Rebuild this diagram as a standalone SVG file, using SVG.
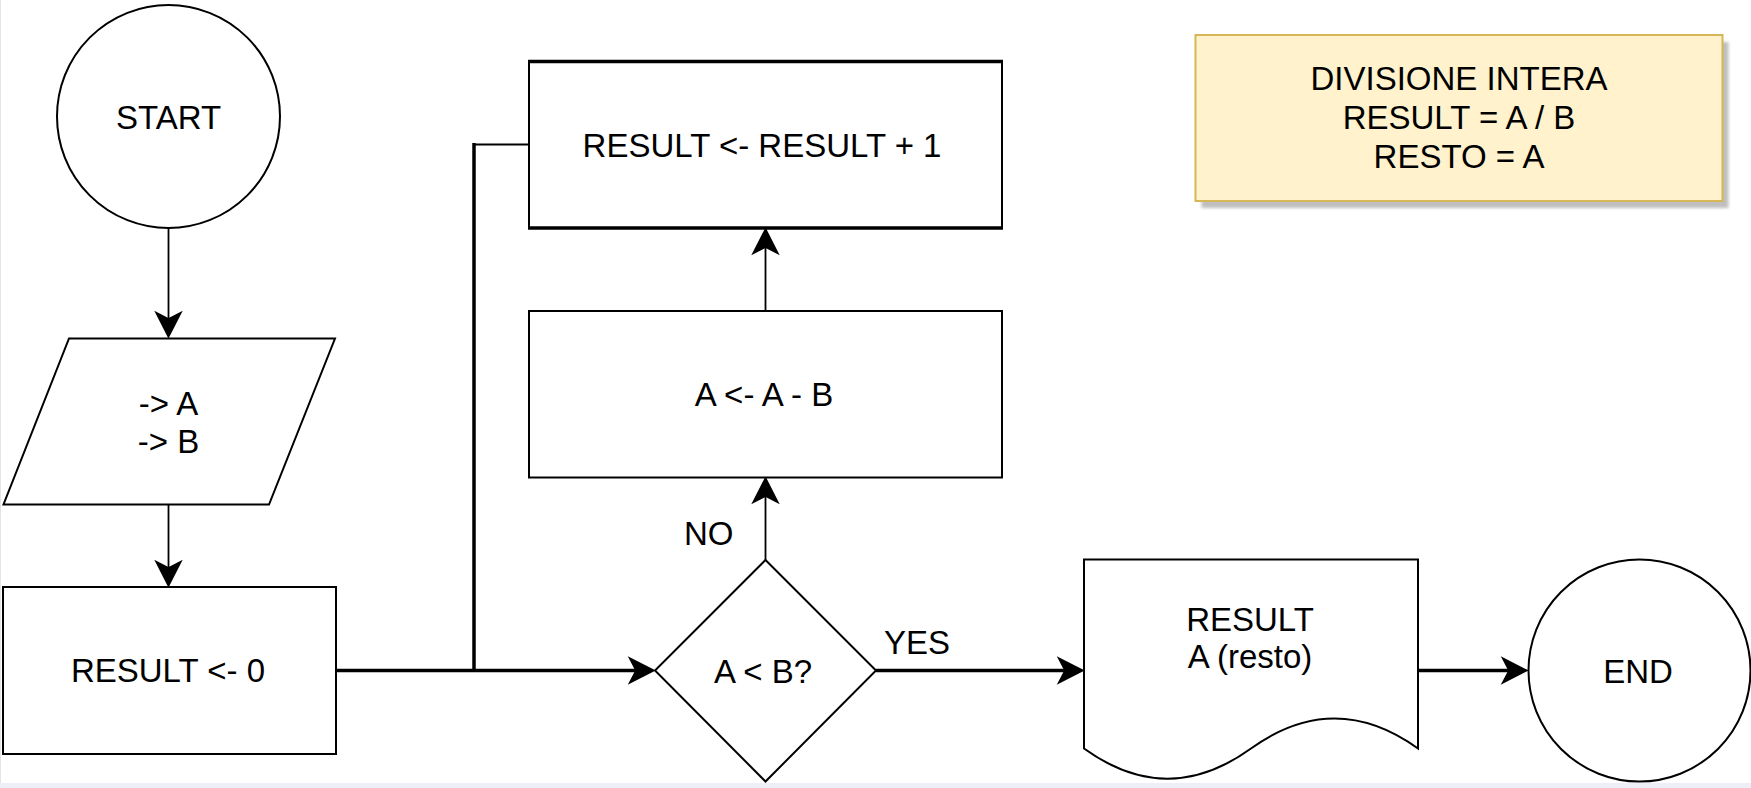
<svg xmlns="http://www.w3.org/2000/svg" width="1751" height="788" viewBox="0 0 1751 788">
  <style>
    .shape { fill: #ffffff; stroke: #000000; stroke-width: 2; }
    .lbl { font-family: "Liberation Sans", Arial, Helvetica, sans-serif; font-size: 33px; fill: #000000; text-anchor: middle; }
    .edge-label { font-family: "Liberation Sans", Arial, Helvetica, sans-serif; font-size: 33px; fill: #000000; text-anchor: start; }
    .thin { fill: none; stroke: #000000; stroke-width: 1.8; }
    .thick { fill: none; stroke: #000000; stroke-width: 3.5; }
  </style>
  <defs>
    <marker id="arrow" markerUnits="userSpaceOnUse" markerWidth="40" markerHeight="40" viewBox="-10 -20 40 40" refX="0" refY="0" orient="auto" overflow="visible">
      <path d="M18,0 L-6.5,-12.5 L0,0 L-6.5,12.5 Z" fill="#000000" stroke="#000000" stroke-width="1.5" stroke-linejoin="miter"/>
    </marker>
    <filter id="soft" x="-5%" y="-10%" width="110%" height="120%">
      <feGaussianBlur stdDeviation="1.5"/>
    </filter>
  </defs>

  <rect x="0" y="0" width="1751" height="788" fill="#ffffff"/>
  <rect x="0" y="783" width="1751" height="5" fill="#eeeef6"/>
  <line x1="0.5" y1="0" x2="0.5" y2="783" stroke="#e4e4e4" stroke-width="1"/>

  <g id="connectors">
    <path class="thin" d="M168.5,228 V319" marker-end="url(#arrow)"/>
    <path class="thin" d="M168.5,505 V568" marker-end="url(#arrow)"/>
    <path class="thick" d="M336,670.5 H636" marker-end="url(#arrow)"/>
    <path class="thin" d="M529,144.5 H474"/>
    <path class="thick" d="M474,143 V670.5"/>
    <path class="thin" d="M765.5,560 V496" marker-end="url(#arrow)"/>
    <path class="thin" d="M765.5,311 V247" marker-end="url(#arrow)"/>
    <path class="thick" d="M876,670.5 H1065" marker-end="url(#arrow)"/>
    <path class="thick" d="M1418,670.5 H1509" marker-end="url(#arrow)"/>
    <text class="edge-label" x="684" y="545">NO</text>
    <text class="edge-label" x="884" y="654">YES</text>
  </g>

  <g id="start">
    <circle class="shape" cx="168.5" cy="116.5" r="111.5"/>
    <text class="lbl" x="168.5" y="128.5">START</text>
  </g>

  <g id="input">
    <polygon class="shape" points="69,338.5 335,338.5 269,504.5 3.5,504.5"/>
    <text class="lbl" x="168.5" y="414.5">-&gt; A</text>
    <text class="lbl" x="168.5" y="453">-&gt; B</text>
  </g>

  <g id="init">
    <rect class="shape" x="3" y="587" width="333" height="167"/>
    <text class="lbl" x="168" y="682">RESULT &lt;- 0</text>
  </g>

  <g id="increment">
    <rect class="shape" x="529" y="61.5" width="473" height="166.5"/>
    <line x1="528" y1="61.5" x2="1003" y2="61.5" stroke="#000000" stroke-width="3.5"/>
    <line x1="528" y1="228" x2="1003" y2="228" stroke="#000000" stroke-width="3.5"/>
    <text class="lbl" x="762" y="156.5">RESULT &lt;- RESULT + 1</text>
  </g>

  <g id="subtract">
    <rect class="shape" x="529" y="311" width="473" height="166.5"/>
    <text class="lbl" x="764" y="406">A &lt;- A - B</text>
  </g>

  <g id="decision">
    <polygon class="shape" points="765.5,560 876,670.5 765.5,781.5 655,670.5"/>
    <text class="lbl" x="763" y="682.5">A &lt; B?</text>
  </g>

  <g id="output">
    <path class="shape" d="M1084,559.5 H1418 V748.5 Q1334.5,688.6 1251,748.5 Q1167.5,808.8 1084,748.5 Z"/>
    <text class="lbl" x="1250" y="630.5">RESULT</text>
    <text class="lbl" x="1250" y="667.5">A (resto)</text>
  </g>

  <g id="end">
    <circle class="shape" cx="1639.5" cy="670.5" r="111"/>
    <text class="lbl" x="1638" y="682.5">END</text>
  </g>

  <g id="note">
    <rect x="1201.5" y="42" width="527" height="166" fill="#000000" fill-opacity="0.25" filter="url(#soft)"/>
    <rect x="1195.5" y="35" width="527" height="166" fill="#fff2cc" stroke="#d6b656" stroke-width="2"/>
    <text class="lbl" x="1459" y="89.5">DIVISIONE INTERA</text>
    <text class="lbl" x="1459" y="128.5">RESULT = A / B</text>
    <text class="lbl" x="1459" y="167.5">RESTO = A</text>
  </g>
</svg>
